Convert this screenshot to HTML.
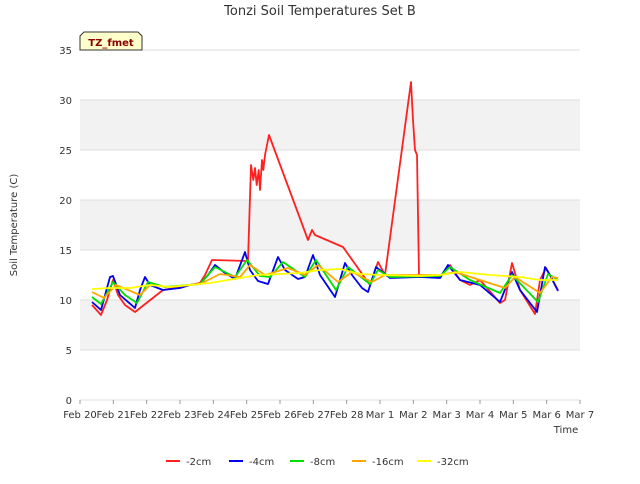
<!DOCTYPE html>
<html><head><meta charset="utf-8"><style>
body{margin:0;background:#fff;font-family:"DejaVu Sans",sans-serif}
svg text{font-family:"DejaVu Sans","Liberation Sans",sans-serif}
</style></head><body>
<svg id="c" width="640" height="480">
<text x="320" y="15" text-anchor="middle" font-size="13" fill="#333">Tonzi Soil Temperatures Set B</text>
<text transform="translate(17,225) rotate(-90)" text-anchor="middle" font-size="10" fill="#333">Soil Temperature (C)</text>
<text x="566" y="433" text-anchor="middle" font-size="10" fill="#333">Time</text>
<g id="bands"></g><g id="grid"></g><g id="ticks"></g><g id="series"></g>
<g>
<path d="M80,50 L80,36 L84,32 L138,32 L142,36 L142,50 Z" fill="#ffffcc" stroke="#333" stroke-width="1"/>
<text x="111" y="46" text-anchor="middle" font-size="10" font-weight="bold" fill="#8b0000">TZ_fmet</text>
</g>
<g id="legend"></g>
</svg>
<script>
const xTicks=["Feb 20","Feb 21","Feb 22","Feb 23","Feb 24","Feb 25","Feb 26","Feb 27","Feb 28","Mar 1","Mar 2","Mar 3","Mar 4","Mar 5","Mar 6","Mar 7"];
const yTicks=[0,5,10,15,20,25,30,35];
const seriesNames=["-2cm","-4cm","-8cm","-16cm","-32cm"];
const seriesColors=["#ff2020","#0000ee","#00e000","#ffa500","#ffff00"];
const t2=[0.36,0.63,0.81,0.99,1.14,1.35,1.65,2.49,3.0,3.6,3.75,3.96,5.04,5.13,5.2,5.25,5.3,5.36,5.4,5.46,5.5,5.55,5.67,6.84,6.96,7.05,7.89,8.7,8.94,9.15,9.93,9.99,10.05,10.11,10.17,10.8,10.95,11.1,11.4,11.7,12.0,12.6,12.75,12.96,13.2,13.65,13.8,13.98,14.34];
const v2=[9.5,8.5,10,12,10.5,9.5,8.8,11,11.3,11.7,12.5,14,13.9,23.5,22,23.2,21.5,23,21,24,23,24.5,26.5,16,17,16.5,15.3,11.5,13.8,12.5,31.8,28,25,24.5,12.5,12.3,13,13.5,12,11.5,12,9.7,10,13.7,11,8.6,12,13.2,11];
const t4=[0.36,0.63,0.9,0.99,1.2,1.65,1.8,1.95,2.1,2.49,3.0,3.3,3.6,3.84,4.05,4.35,4.65,4.95,5.1,5.34,5.64,5.94,6.15,6.54,6.75,6.99,7.2,7.65,7.95,8.16,8.46,8.64,8.88,9.3,10.2,10.8,11.04,11.4,12.0,12.6,12.96,13.2,13.71,13.95,14.1,14.34];
const v4=[9.8,9,12.3,12.4,10.5,9.2,11,12.3,11.5,11,11.2,11.5,11.6,12.5,13.5,12.7,12.1,14.8,13,11.9,11.6,14.3,13,12.1,12.3,14.5,12.5,10.3,13.7,12.5,11.2,10.8,13.3,12.2,12.3,12.2,13.5,12,11.5,9.8,12.8,11,8.8,13.3,12.5,10.9];
const t8=[0.36,0.63,0.99,1.35,1.71,2.04,2.55,3.6,4.05,4.65,5.01,5.4,5.7,6.09,6.75,7.08,7.68,8.04,8.7,8.94,9.3,10.8,11.1,11.7,12.6,12.96,13.74,14.04,14.34];
const v8=[10.3,9.6,11.8,10.5,9.7,11.8,11.3,11.6,13.3,12.3,14,12.4,12.3,13.8,12.3,14,11,13.3,11.6,13,12.3,12.4,13.3,12,10.7,12.5,9.8,12.6,12];
const t16=[0.36,0.72,1.08,1.8,2.1,2.7,3.6,4.2,4.8,5.1,5.55,6.24,6.75,7.14,7.74,8.16,8.76,9.15,10.8,11.25,12.0,12.75,13.05,13.8,14.16,14.34];
const v16=[10.8,10.2,11.5,10.5,11.5,11.3,11.6,12.6,12.3,13.5,12.5,13.2,12.5,13.5,11.8,12.8,11.8,12.5,12.5,12.8,12,11.2,12.3,10.7,12.3,12.2];
const t32=[0.36,0.9,1.5,2.1,2.7,3.9,4.8,5.34,6.0,6.6,7.2,7.8,8.4,9.0,10.2,10.8,11.4,12.3,13.2,13.8,14.34];
const v32=[11.1,11.2,11.2,11.5,11.3,11.7,12.2,12.5,12.6,12.7,13,13.1,12.6,12.5,12.4,12.5,12.8,12.5,12.3,12,12];
const times=[t2,t4,t8,t16,t32], vals=[v2,v4,v8,v16,v32];
const X0=80,X1=580,Y0=400,Y1=50;
const xs=d=>X0+d*(X1-X0)/15, ys=v=>Y0-v*(Y0-Y1)/35;
const NS="http://www.w3.org/2000/svg";
function mk(tag,at,par){const e=document.createElementNS(NS,tag);for(const k in at)e.setAttribute(k,at[k]);document.getElementById(par).appendChild(e);return e;}
for(let i=0;i<yTicks.length-1;i++){
 const r=mk("rect",{x:X0,y:ys(yTicks[i+1]),width:X1-X0,height:ys(yTicks[i])-ys(yTicks[i+1]),fill:i%2==1?"#f2f2f2":"#fff"},"bands");
 
 
}
yTicks.forEach(v=>{
 const l=mk("line",{x1:X0,x2:X1,y1:ys(v),y2:ys(v),stroke:"#dddddd"},"grid");
 
 
 const t=mk("text",{x:X0-8,y:ys(v)+4,"text-anchor":"end","font-size":"10",fill:"#333"},"ticks");
 t.textContent=v;
 
 
});
xTicks.forEach((s,i)=>{
 const l=mk("line",{x1:xs(i),x2:xs(i),y1:Y0,y2:Y0+4,stroke:"#999"},"ticks");
 
 
 const t=mk("text",{x:xs(i),y:Y0+18,"text-anchor":"middle","font-size":"10",fill:"#333"},"ticks");
 t.textContent=s;
 
 
});
times.forEach((tt,k)=>{
 const pts=tt.map((d,i)=>xs(d).toFixed(1)+","+ys(vals[k][i]).toFixed(1)).join(" ");
 const p=mk("polyline",{points:pts,fill:"none",stroke:seriesColors[k],"stroke-width":"1.8","stroke-linejoin":"round"},"series");
 
 
});
const lx=[166,229,290,352,417];
seriesNames.forEach((n,k)=>{
 const l=mk("line",{x1:lx[k],x2:lx[k]+14,y1:461,y2:461,stroke:seriesColors[k],"stroke-width":"2"},"legend");
 
 
 const t=mk("text",{x:lx[k]+20,y:465,"font-size":"10",fill:"#333"},"legend");
 t.textContent=n;
 
 
});
</script>
</body></html>
